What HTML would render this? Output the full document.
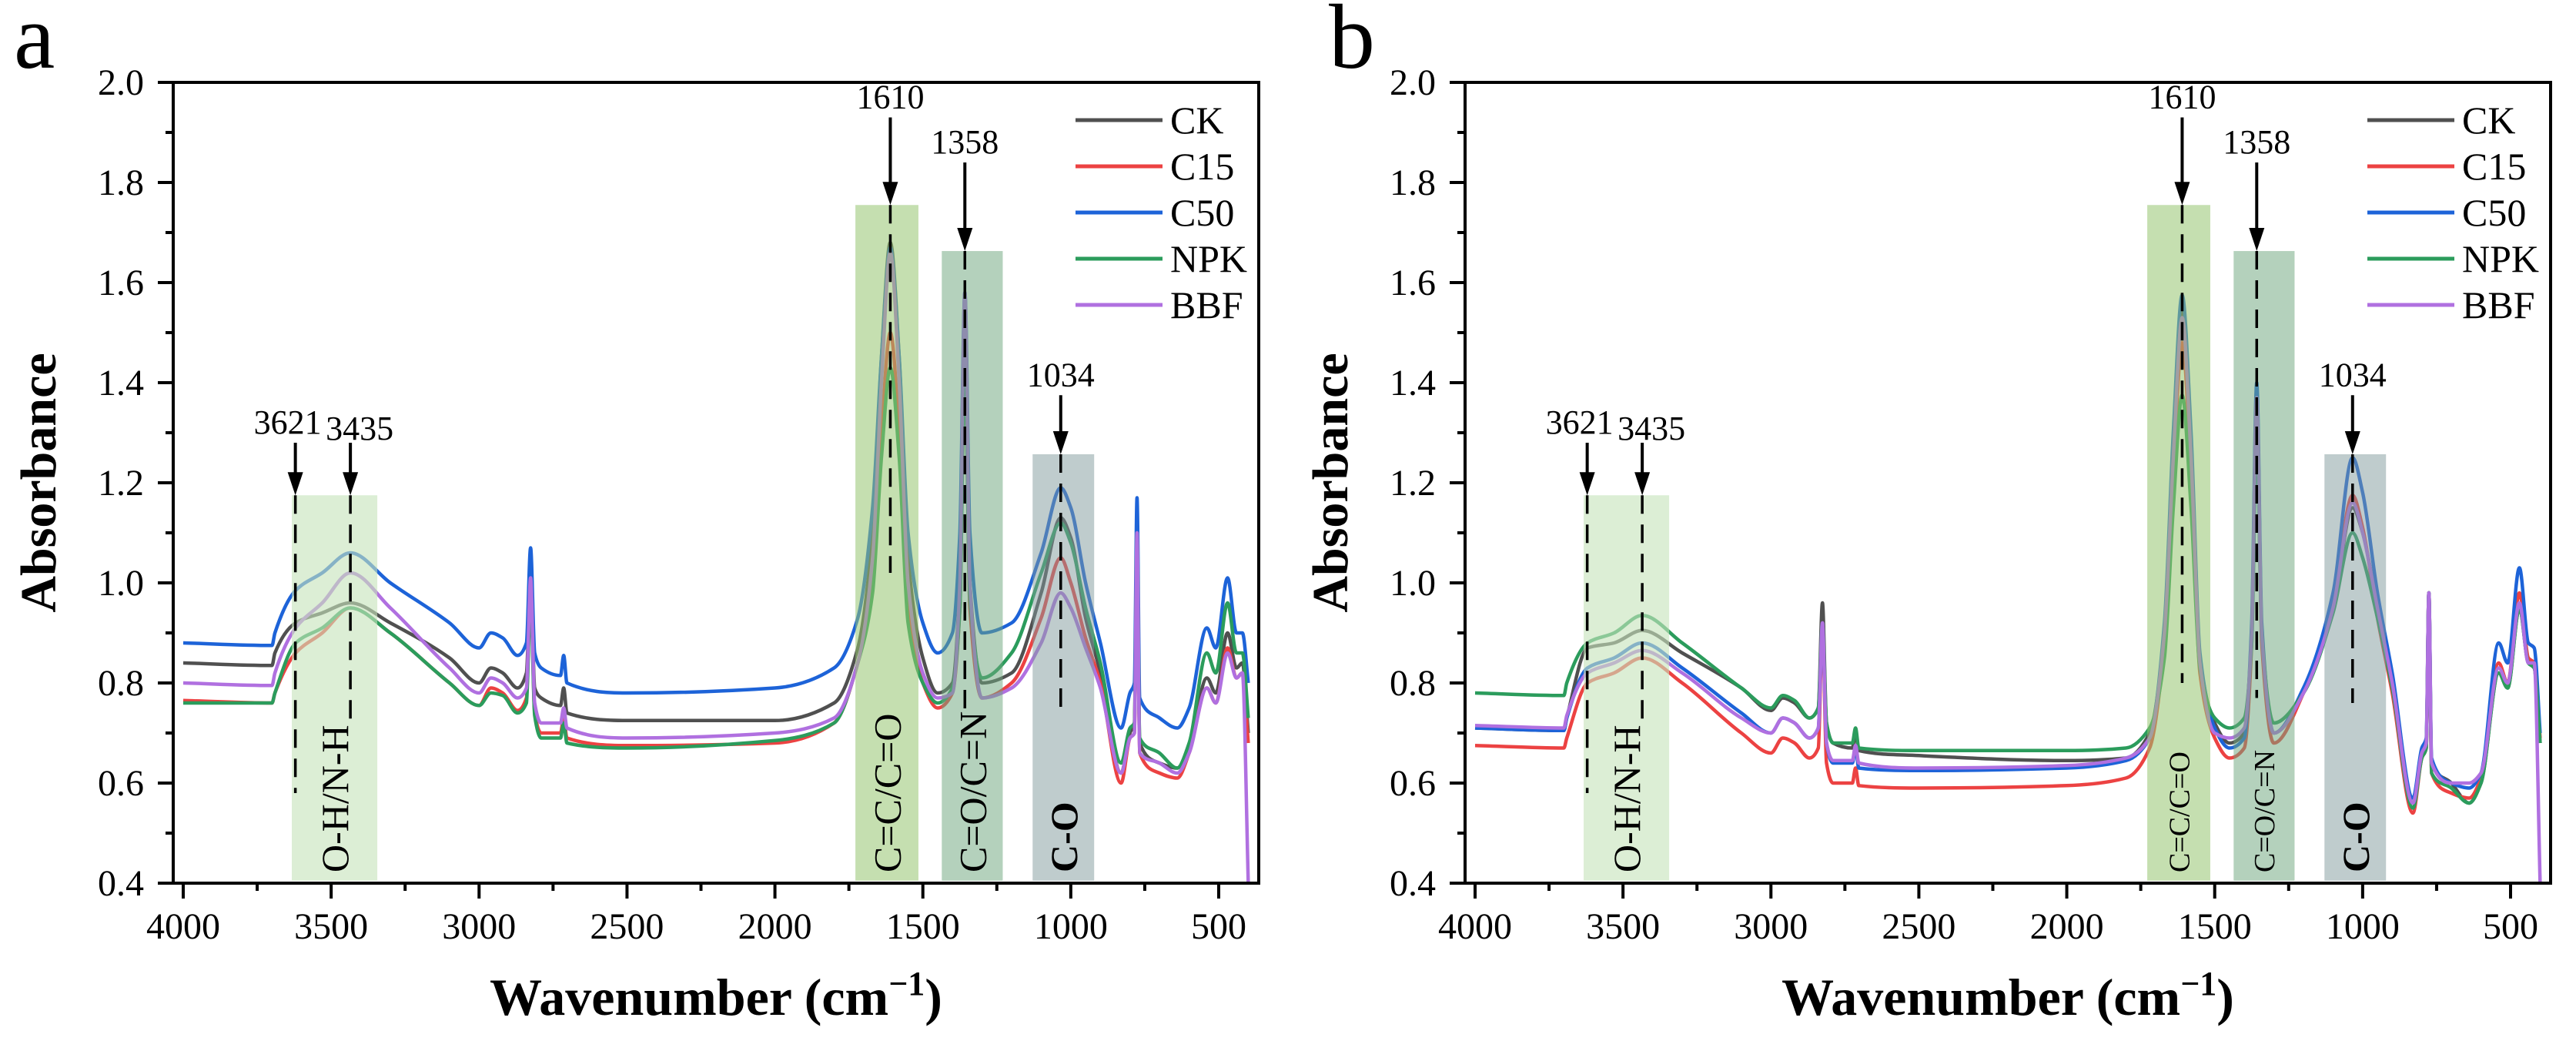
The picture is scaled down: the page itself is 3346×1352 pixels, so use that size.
<!DOCTYPE html>
<html><head><meta charset="utf-8"><style>
html,body{margin:0;padding:0;background:#fff;}
svg{display:block;font-family:"Liberation Serif",serif;}
</style></head><body>
<svg id="fig" width="3346" height="1352" viewBox="0 0 3346 1352" xmlns="http://www.w3.org/2000/svg"></svg>
<script>
const wavenumbers = [4000,3700,3690,3620,3530,3435,3300,3100,3000,2960,2920,2870,2840,2826,2812,2790,2725,2714,2703,2500,2000,1800,1720,1670,1640,1610,1580,1550,1500,1450,1400,1375,1358,1341,1300,1200,1100,1034,1000,950,900,830,800,785,776,767,700,640,600,540,510,470,440,420,400];
const seriesNames = ["CK","C15","C50","NPK","BBF"];
const seriesColors = ["#505050","#ec4242","#1d63d8","#2b9c5c","#b070e0"];
// Panel a
const aCK  = [.84,.835,.86,.92,.94,.96,.92,.85,.80,.83,.82,.79,.82,1.0,.79,.77,.755,.79,.74,.725,.725,.76,.87,1.1,1.45,1.68,1.45,1.05,.85,.78,.80,1.0,1.55,1.0,.80,.82,.98,1.13,1.09,.93,.82,.62,.70,.72,1.10,.68,.64,.63,.67,.81,.78,.90,.83,.84,.70];
const aC15 = [.765,.76,.78,.86,.90,.95,.90,.80,.755,.79,.78,.745,.77,1.0,.74,.70,.70,.73,.69,.675,.68,.72,.84,1.0,1.3,1.50,1.3,.95,.80,.75,.78,.95,1.45,.95,.77,.80,.93,1.05,1.0,.89,.80,.60,.69,.70,1.08,.66,.62,.61,.66,.79,.76,.87,.81,.82,.68];
const aC50 = [.88,.875,.90,.985,1.02,1.06,1.0,.92,.87,.90,.89,.855,.88,1.07,.86,.83,.815,.855,.80,.78,.79,.83,.93,1.15,1.45,1.67,1.45,1.1,.92,.86,.90,1.1,1.58,1.1,.90,.92,1.06,1.19,1.15,1.0,.88,.71,.78,.80,1.17,.77,.73,.71,.75,.91,.87,1.01,.90,.90,.80];
const aNPK = [.76,.76,.78,.88,.91,.95,.90,.80,.755,.78,.775,.74,.76,.98,.735,.69,.69,.72,.68,.67,.685,.72,.84,.98,1.25,1.43,1.25,.92,.80,.76,.79,.95,1.45,.97,.81,.86,1.02,1.12,1.08,.95,.84,.64,.71,.72,1.10,.69,.66,.63,.68,.86,.82,.96,.86,.86,.73];
const aBBF = [.80,.795,.82,.91,.96,1.02,.95,.83,.78,.81,.80,.77,.79,1.01,.76,.72,.72,.75,.71,.69,.70,.73,.84,1.05,1.4,1.66,1.4,1.0,.82,.77,.78,1.0,1.58,1.0,.77,.79,.88,.98,.95,.87,.79,.62,.69,.70,1.10,.66,.64,.62,.66,.79,.76,.86,.81,.82,.40];
// Panel b
const bCK  = [.71,.705,.73,.87,.88,.905,.86,.79,.745,.77,.76,.73,.75,.96,.72,.68,.67,.70,.665,.655,.645,.65,.70,.90,1.25,1.55,1.25,.85,.72,.68,.70,.90,1.37,.90,.70,.78,.95,1.15,1.10,.95,.80,.56,.66,.68,.98,.64,.60,.56,.60,.82,.79,.95,.84,.83,.68];
const bC15 = [.675,.67,.69,.80,.82,.85,.80,.70,.66,.69,.68,.65,.67,.92,.64,.60,.60,.63,.595,.59,.595,.61,.67,.88,1.22,1.48,1.22,.82,.69,.65,.67,.88,1.37,.88,.68,.78,.96,1.175,1.11,.93,.78,.54,.65,.67,.98,.62,.58,.57,.61,.84,.80,.98,.85,.84,.69];
const bC50 = [.71,.705,.73,.83,.85,.88,.83,.74,.70,.73,.72,.69,.71,.92,.68,.64,.64,.67,.63,.625,.63,.645,.69,.92,1.3,1.575,1.3,.86,.71,.67,.69,.92,1.40,.92,.70,.79,.98,1.25,1.18,.98,.82,.57,.67,.69,.98,.65,.60,.59,.62,.88,.84,1.03,.88,.87,.70];
const bNPK = [.78,.775,.80,.88,.90,.935,.88,.79,.75,.775,.765,.73,.75,.92,.72,.68,.68,.71,.67,.665,.665,.67,.71,.85,1.15,1.375,1.15,.83,.73,.71,.73,.88,1.30,.90,.72,.78,.94,1.10,1.05,.93,.79,.55,.65,.67,.98,.62,.59,.56,.60,.82,.79,.95,.84,.83,.68];
const bBBF = [.715,.71,.735,.82,.84,.865,.82,.73,.70,.73,.72,.69,.71,.92,.68,.645,.645,.675,.64,.63,.635,.65,.69,.90,1.25,1.53,1.25,.84,.70,.69,.71,.90,1.37,.90,.70,.78,.95,1.16,1.10,.95,.80,.56,.66,.68,.98,.64,.60,.60,.62,.83,.80,.96,.84,.84,.40];
const xTicks = [4000,3500,3000,2500,2000,1500,1000,500];
const yTicks = [0.4,0.6,0.8,1.0,1.2,1.4,1.6,1.8,2.0];
const bandLabels = ["O-H/N-H","C=C/C=O","C=O/C=N","C-O"];
const bandStart = [3633,1728,1436,1129];
const bandEnd = [3344,1515,1230,921];
const bandTop = [1.175,1.755,1.663,1.257];
const peakLabels = ["3621","3435","1610","1358","1034"];
const peakPos = [3621,3435,1610,1358,1034];
const peakArrowTop = [1.28,1.28,1.93,1.84,1.375];
const peakArrowEnd = [1.175,1.175,1.755,1.663,1.257];
const peakDashEnd_a = [0.58,0.72,1.02,0.74,0.75];
const peakDashEnd_b = [0.58,0.72,0.80,0.77,0.76];

const NS="http://www.w3.org/2000/svg";
const svg=document.getElementById('fig');
function mk(tag,attrs,parent){const e=document.createElementNS(NS,tag);for(const k in attrs)e.setAttribute(k,attrs[k]);(parent||svg).appendChild(e);return e;}

// monotone cubic path through points (x increasing)
function monoPath(xs,ys){
  const n=xs.length,d=[],m=new Array(n);
  for(let i=0;i<n-1;i++)d.push((ys[i+1]-ys[i])/(xs[i+1]-xs[i]));
  m[0]=d[0];m[n-1]=d[n-2];
  for(let i=1;i<n-1;i++){
    if(d[i-1]*d[i]<=0)m[i]=0;
    else{const h0=xs[i]-xs[i-1],h1=xs[i+1]-xs[i];const w1=2*h1+h0,w2=h1+2*h0;m[i]=(w1+w2)/(w1/d[i-1]+w2/d[i]);}
  }
  let p='M'+xs[0].toFixed(1)+' '+ys[0].toFixed(1);
  for(let i=0;i<n-1;i++){
    const h=(xs[i+1]-xs[i])/3;
    p+='C'+(xs[i]+h).toFixed(1)+' '+(ys[i]+m[i]*h).toFixed(1)+' '+(xs[i+1]-h).toFixed(1)+' '+(ys[i+1]-m[i+1]*h).toFixed(1)+' '+xs[i+1].toFixed(1)+' '+ys[i+1].toFixed(1);
  }
  return p;
}

function panel(ox,letter,data,dashEnd,smallBandText){
  const L=225+ox,R=1635+ox,T=107,B=1147;
  const X=w=>238+ox+(4000-w)*(1345/3500);
  const Y=v=>B-(v-0.4)*650;
  const g=mk('g',{});
  
  
  const t=mk('text',{x:18+ox+(letter==='b'?30:0),y:88,'font-size':120},g);t.textContent=letter;
  
  
  for(let s=0;s<5;s++){
    const xs=wavenumbers.map(X),ys=data[s].map(Y);
    const p=mk('path',{d:monoPath(xs,ys),fill:'none',stroke:seriesColors[s],'stroke-width':4.5,'stroke-linejoin':'round'},g);
    
    
  }
  const fills=['rgba(198,228,188,0.62)','rgba(150,196,112,0.55)','rgba(112,166,126,0.52)','rgba(128,154,156,0.5)'];
  for(let i=0;i<4;i++){
    const r=mk('rect',{x:X(bandStart[i]),y:Y(bandTop[i]),width:X(bandEnd[i])-X(bandStart[i]),height:Y(0.405)-Y(bandTop[i]),fill:fills[i]},g);
    
    
    const cx=(X(bandStart[i])+X(bandEnd[i]))/2;
    const fs=(smallBandText&&(i===1||i===2))?38:50;
    const tx=mk('text',{x:0,y:0,'font-size':fs,'font-weight':i===3?'bold':'normal',transform:`translate(${cx+fs*0.35},${B-14}) rotate(-90)`},g);
    tx.textContent=bandLabels[i];
    
    
  }
  for(let i=0;i<5;i++){
    const x=X(peakPos[i]);
    mk('line',{x1:x,y1:Y(peakArrowTop[i]),x2:x,y2:Y(peakArrowEnd[i])-24,stroke:'#000','stroke-width':4},g);
    mk('path',{d:`M${x-10} ${Y(peakArrowEnd[i])-30}L${x+10} ${Y(peakArrowEnd[i])-30}L${x} ${Y(peakArrowEnd[i])}Z`,fill:'#000'},g);
    mk('line',{x1:x,y1:Y(peakArrowEnd[i]),x2:x,y2:Y(dashEnd[i]),stroke:'#000','stroke-width':3.5,'stroke-dasharray':'24 14'},g);
    const dy=(i===1)?8:0;
    const lt=mk('text',{x:x+(i===0?-10:i===1?12:0),y:Y(peakArrowTop[i])-12+dy,'font-size':44,'text-anchor':'middle'},g);
    lt.textContent=peakLabels[i];
    
    
  }
  mk('rect',{x:L,y:T,width:R-L,height:B-T,fill:'none',stroke:'#000','stroke-width':4},g);
  xTicks.forEach(w=>{
    mk('line',{x1:X(w),y1:B,x2:X(w),y2:B+20,stroke:'#000','stroke-width':4},g);
    if(w-250>=400) mk('line',{x1:X(w-250),y1:B,x2:X(w-250),y2:B+10,stroke:'#000','stroke-width':4},g);
    const tl=mk('text',{x:X(w),y:1219,'font-size':48,'text-anchor':'middle'},g);tl.textContent=w;
    
    
  });
  yTicks.forEach(v=>{
    mk('line',{x1:L-20,y1:Y(v),x2:L,y2:Y(v),stroke:'#000','stroke-width':4},g);
    if(v<2) mk('line',{x1:L-10,y1:Y(v+0.1),x2:L,y2:Y(v+0.1),stroke:'#000','stroke-width':4},g);
    const tl=mk('text',{x:L-38,y:Y(v)+16,'font-size':48,'text-anchor':'end'},g);tl.textContent=v.toFixed(1);
    
    
  });
  const yt=mk('text',{x:0,y:0,'font-size':66,'font-weight':'bold','text-anchor':'middle',transform:`translate(${72+ox},627) rotate(-90)`},g);
  yt.textContent='Absorbance';
  
  
  const xt=mk('text',{x:930+ox,y:1318,'font-size':68,'font-weight':'bold','text-anchor':'middle'},g);
  xt.innerHTML='Wavenumber (cm<tspan dy="-26" font-size="44">−1</tspan><tspan dy="26">)</tspan>';
  
  
  for(let s=0;s<5;s++){
    const y=156+s*60;
    const ll=mk('line',{x1:1397+ox,y1:y,x2:1510+ox,y2:y,stroke:seriesColors[s],'stroke-width':5},g);
    
    
    const lt=mk('text',{x:1520+ox,y:y+17,'font-size':50},g);lt.textContent=seriesNames[s];
    
    
  }
}
panel(0,'a',[aCK,aC15,aC50,aNPK,aBBF],peakDashEnd_a,false);
panel(1678,'b',[bCK,bC15,bC50,bNPK,bBBF],peakDashEnd_b,true);
</script>
</body></html>
